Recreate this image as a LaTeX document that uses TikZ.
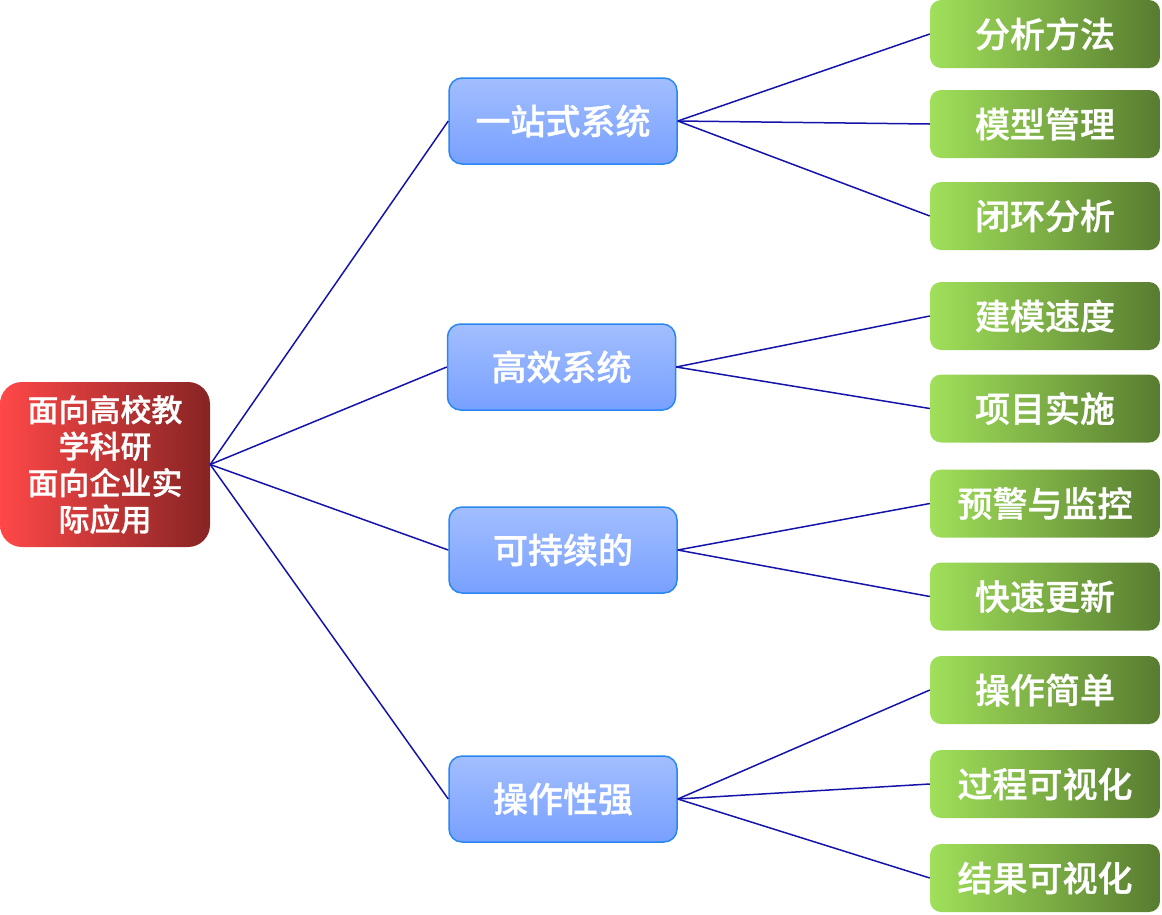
\documentclass[tikz,border=0pt]{standalone}
\usepackage{fontspec}
\setmainfont{Noto Sans CJK SC}[BoldFont={Noto Sans CJK SC Medium},BoldFeatures={FakeBold=0.9}]
\definecolor{rootL}{RGB}{255,72,72}
\definecolor{rootR}{RGB}{135,36,36}
\definecolor{midT}{RGB}{162,190,255}
\definecolor{midB}{RGB}{120,160,255}
\definecolor{midD}{RGB}{40,135,240}
\definecolor{leafL}{RGB}{160,224,90}
\definecolor{leafR}{RGB}{88,124,48}
\definecolor{edge}{RGB}{20,20,170}
\tikzset{
  rootbox/.style={rounded corners=22pt, left color=rootL, right color=rootR, draw=none,
    minimum width=210pt, minimum height=165pt, text=white, font=\bfseries\fontsize{31}{36.5}\selectfont, align=center, inner sep=0pt},
  midbox/.style={rounded corners=13pt, top color=midT, bottom color=midB, draw=midD, line width=1.5pt,
    minimum width=228pt, minimum height=86pt, text=white, font=\bfseries\fontsize{35}{40}\selectfont, inner sep=0pt},
  leafbox/.style={rounded corners=11pt, left color=leafL, right color=leafR, draw=none,
    minimum width=230pt, minimum height=68pt, text=white, font=\bfseries\fontsize{35}{40}\selectfont, inner sep=0pt},
  link/.style={draw=edge, line width=1.5pt}
}
\begin{document}
\begin{tikzpicture}[x=1pt,y=-1pt]
\useasboundingbox (0,0) rectangle (1162,914);
\node[rootbox] (root) at (105,464.5) {面向高校教\\学科研\\面向企业实\\际应用};
\node[midbox] (m1) at (563,121) {一站式系统};
\node[midbox] (m2) at (561.5,367) {高效系统};
\node[midbox] (m3) at (563,550) {可持续的};
\node[midbox] (m4) at (563,799) {操作性强};
\node[leafbox] (l1) at (1045,34) {分析方法};
\node[leafbox] (l2) at (1045,124) {模型管理};
\node[leafbox] (l3) at (1045,216) {闭环分析};
\node[leafbox] (l4) at (1045,316) {建模速度};
\node[leafbox] (l5) at (1045,408.5) {项目实施};
\node[leafbox] (l6) at (1045,503.5) {预警与监控};
\node[leafbox] (l7) at (1045,596.5) {快速更新};
\node[leafbox] (l8) at (1045,690) {操作简单};
\node[leafbox] (l9) at (1045,784) {过程可视化};
\node[leafbox] (l10) at (1045,878) {结果可视化};
\foreach \m in {m1,m2,m3,m4}{\draw[link] (root.east) -- (\m.west);}
\foreach \l in {l1,l2,l3}{\draw[link] (m1.east) -- (\l.west);}
\foreach \l in {l4,l5}{\draw[link] (m2.east) -- (\l.west);}
\foreach \l in {l6,l7}{\draw[link] (m3.east) -- (\l.west);}
\foreach \l in {l8,l9,l10}{\draw[link] (m4.east) -- (\l.west);}
\end{tikzpicture}
\end{document}
